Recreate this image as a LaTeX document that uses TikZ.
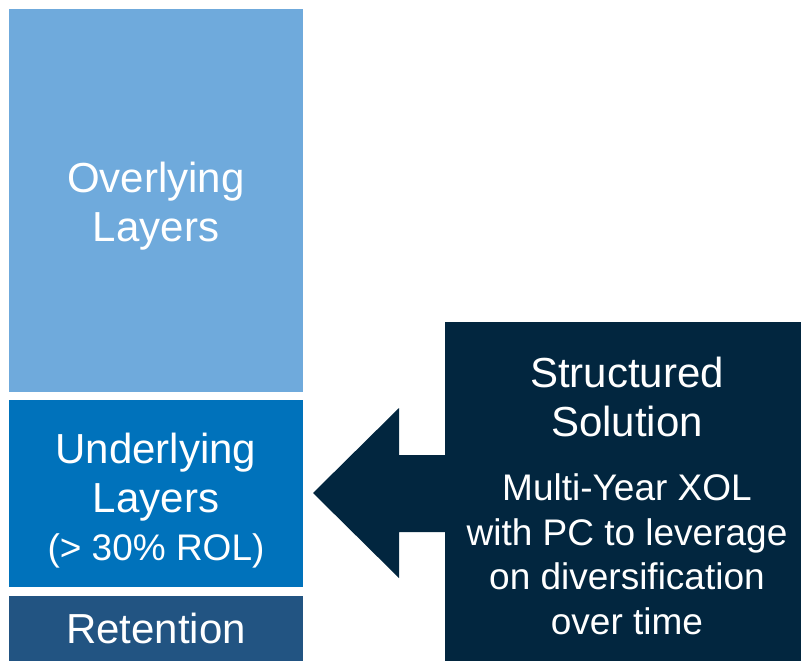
\documentclass[tikz,border=0pt]{standalone}
\usepackage{fontspec}
\setmainfont{Liberation Sans}
\definecolor{overc}{RGB}{111,170,220}
\definecolor{underc}{RGB}{0,114,187}
\definecolor{retc}{RGB}{34,84,130}
\definecolor{solc}{RGB}{2,38,63}
\begin{document}
\begin{tikzpicture}[x=1pt,y=-1pt,
  layerbox/.style={draw=none,inner sep=0pt,anchor=north west},
  bigtxt/.style={text=white,align=center,anchor=base,inner sep=0pt,font=\fontsize{42}{49}\selectfont},
  smalltxt/.style={text=white,align=center,anchor=base,inner sep=0pt,font=\fontsize{37}{44.5}\selectfont}]
\useasboundingbox (0,0) rectangle (801,661);
% layer boxes
\node[layerbox,fill=overc,minimum width=294pt,minimum height=383pt] (over) at (9,9) {};
\node[layerbox,fill=underc,minimum width=294pt,minimum height=187pt] (under) at (9,400) {};
\node[layerbox,fill=retc,minimum width=294pt,minimum height=65pt] (ret) at (9,596) {};
\node[layerbox,fill=solc,minimum width=356pt,minimum height=339pt] (sol) at (445,322) {};
% arrow
\coordinate (tip) at (313,493);
\fill[solc] (tip) -- (399,408) -- (399,455) -- ([xshift=4pt]sol.west |- 0,455)
  -- ([xshift=4pt]sol.west |- 0,532) -- (399,532) -- (399,578) -- cycle;
% texts (base anchor = baseline of the last line)
\node[bigtxt] (overt) at (156,241) {Overlying\\Layers};
\node[bigtxt] (undert) at (156,512) {Underlying\\Layers};
\node[smalltxt] (rolt) at (156,560) {(> 30\% ROL)};
\node[bigtxt] (rett) at (156,643) {Retention};
\node[bigtxt] (solt) at (627,436) {Structured\\Solution};
\node[smalltxt] (desct) at (627,634) {Multi-Year XOL\\with PC to leverage\\on diversification\\over time};
\end{tikzpicture}
\end{document}
